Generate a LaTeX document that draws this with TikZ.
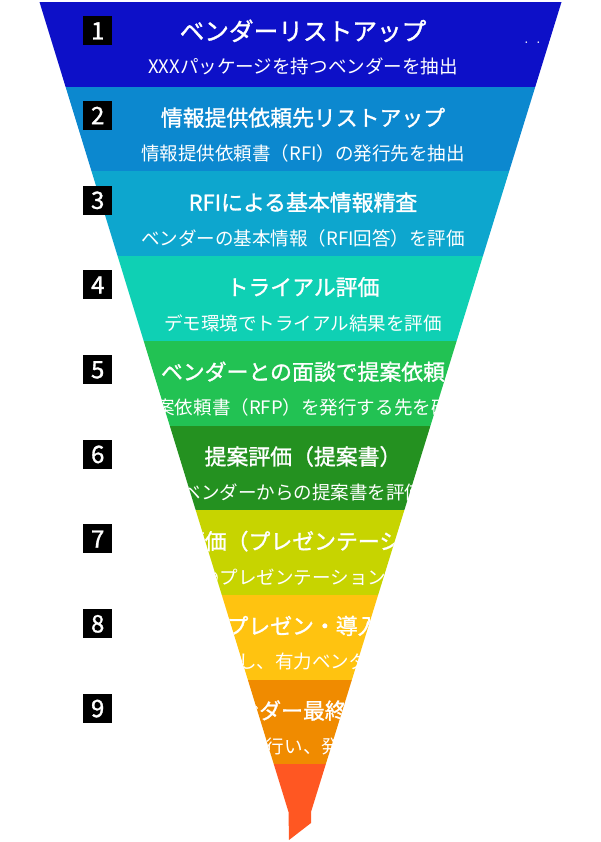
\documentclass[tikz,border=0pt]{standalone}
\usepackage{fontspec}
\newfontfamily\jp{Noto Sans CJK JP}
\newfontfamily\jpmid[FakeBold=1.2]{Noto Sans CJK JP}
\definecolor{band1}{RGB}{13,16,200}
\definecolor{band2}{RGB}{12,136,207}
\definecolor{band3}{RGB}{13,166,206}
\definecolor{band4}{RGB}{15,208,180}
\definecolor{band5}{RGB}{34,194,83}
\definecolor{band6}{RGB}{36,145,32}
\definecolor{band7}{RGB}{199,212,0}
\definecolor{band8}{RGB}{255,195,16}
\definecolor{band9}{RGB}{240,139,0}
\definecolor{band10}{RGB}{255,87,34}
\begin{document}
\begin{tikzpicture}[x=0.75pt,y=-0.75pt]
    \tikzset{
      title/.style={text=white,inner sep=0,text height=14.4pt,text depth=2pt,
        font=\jpmid\fontsize{16.4}{18}\selectfont},
      bigtitle/.style={title,text height=16.3pt,text depth=2.2pt,
        font=\jpmid\fontsize{18.5}{20}\selectfont},
      sub/.style={text=white,inner sep=0,text height=12.2pt,text depth=1.7pt,
        font=\jp\fontsize{13.9}{15}\selectfont},
      num/.style={fill=black,text=white,inner sep=0,minimum size=21.75pt,
        text height=13.2pt,text depth=0pt,font=\jpmid\fontsize{18}{18}\selectfont},
      ellip/.style={text=white,inner sep=0,font=\fontsize{12.8}{12.8}\selectfont}};
    \useasboundingbox (0,0) rectangle (600,842);
    \begin{scope}
      \clip (39.5,2) -- (561.5,2) -- (311,812) -- (311,823) -- (289,840) -- (288.5,812) -- cycle;
      \fill[band1] (0,2) rectangle (600,86.7);
      \fill[band2] (0,86.7) rectangle (600,171.4);
      \fill[band3] (0,171.4) rectangle (600,256.1);
      \fill[band4] (0,256.1) rectangle (600,340.8);
      \fill[band5] (0,340.8) rectangle (600,425.5);
      \fill[band6] (0,425.5) rectangle (600,510.2);
      \fill[band7] (0,510.2) rectangle (600,594.9);
      \fill[band8] (0,594.9) rectangle (600,679.6);
      \fill[band9] (0,679.6) rectangle (600,764.3);
      \fill[band10] (0,764.3) rectangle (600,842);
      \node[bigtitle] (T1) at (303,31) {ベンダーリストアップ};
      \node[sub] (S1) at (303,67) {XXXパッケージを持つベンダーを抽出};
      \node[ellip] (D1) at (538.5,43) {. . .};
      \node[title] (T2) at (303,117.7) {情報提供依頼先リストアップ};
      \node[sub] (S2) at (303,153.7) {情報提供依頼書（RFI）の発行先を抽出};
      \node[title] (T3) at (303,202.4) {RFIによる基本情報精査};
      \node[sub] (S3) at (303,238.4) {ベンダーの基本情報（RFI回答）を評価};
      \node[title] (T4) at (303,287.1) {トライアル評価};
      \node[sub] (S4) at (303,323.1) {デモ環境でトライアル結果を評価};
      \node[title] (T5) at (303,371.8) {ベンダーとの面談で提案依頼};
      \node[sub] (S5) at (303,407.8) {提案依頼書（RFP）を発行する先を確定};
      \node[title] (T6) at (303,456.5) {提案評価（提案書）};
      \node[sub] (S6) at (303,492.5) {ベンダーからの提案書を評価};
      \node[title] (T7) at (303,541.2) {提案評価（プレゼンテーション）};
      \node[sub] (S7) at (303,577.2) {ベンダーのプレゼンテーション内容を評価};
      \node[title] (T8) at (303,625.9) {最終プレゼン・導入検討};
      \node[sub] (S8) at (303,661.9) {比較検討し、有力ベンダーを選定};
      \node[title] (T9) at (303,710.6) {ベンダー最終決定};
      \node[sub] (S9) at (303,746.6) {価格交渉を行い、発注先を決定};
    \end{scope}
    \node[num] (N1) at (97.7,30.7) {1};
    \node[num] (N2) at (97.7,115.4) {2};
    \node[num] (N3) at (97.7,200.1) {3};
    \node[num] (N4) at (97.7,284.8) {4};
    \node[num] (N5) at (97.7,369.5) {5};
    \node[num] (N6) at (97.7,454.2) {6};
    \node[num] (N7) at (97.7,538.9) {7};
    \node[num] (N8) at (97.7,623.6) {8};
    \node[num] (N9) at (97.7,708.3) {9};
  \end{tikzpicture}
\end{document}
